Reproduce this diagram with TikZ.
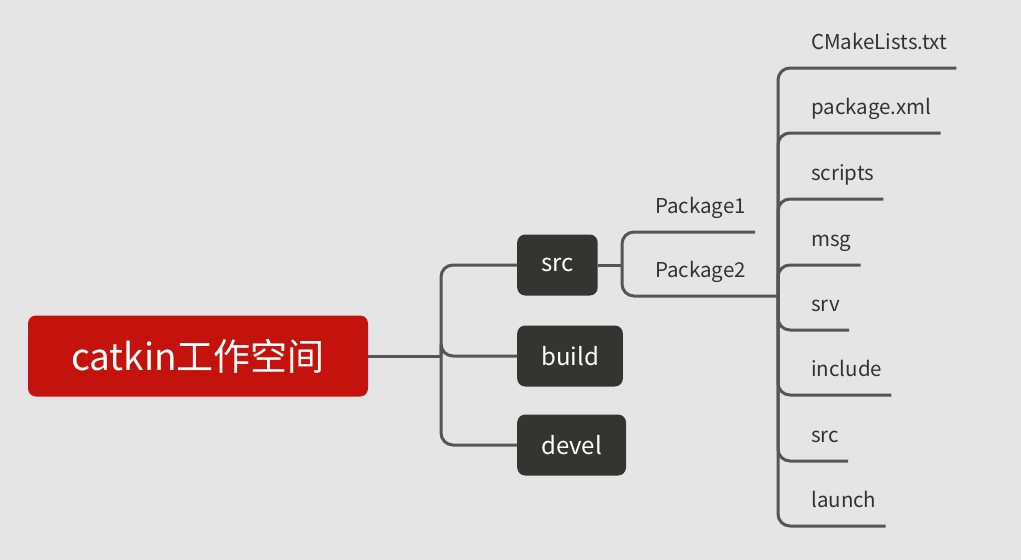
\documentclass[tikz,border=0pt]{standalone}
\usepackage{fontspec}
\setmainfont{Noto Sans CJK SC}
\usetikzlibrary{positioning}
\definecolor{bgGray}{RGB}{229,229,229}
\definecolor{lineGray}{RGB}{85,85,85}
\definecolor{rootRed}{RGB}{196,18,12}
\definecolor{boxDark}{RGB}{52,52,49}
\definecolor{textGray}{RGB}{51,51,51}

\begin{document}
\begin{tikzpicture}[x=1pt,y=-1pt]

    \tikzset{
      rootbox/.style={
        fill=rootRed,
        rounded corners=8pt,
        text=white,
        font=\fontsize{37}{42}\selectfont,
        minimum width=340pt,
        minimum height=81pt,
        inner sep=0pt,
      },
      dirbox/.style={
        fill=boxDark,
        rounded corners=8pt,
        text=white,
        font=\fontsize{24}{28}\selectfont,
        anchor=west,
        inner xsep=24pt,
        minimum height=61pt,
      },
      leaf/.style={
        anchor=south west,
        text=textGray,
        font=\fontsize{20.5}{25}\selectfont,
        inner xsep=9pt,
        inner ysep=0pt,
        text height=15pt,
        text depth=18pt,
      },
      conn/.style={
        draw=lineGray,
        line width=3pt,
        rounded corners=12pt,
      },
    }
    \fill[bgGray] (0,0) rectangle (1021,560);

    % workspace and its folders
    \node[rootbox] (ws) at (198,356) {catkin工作空间};
    \node[dirbox] (src) at (517,265) {src};
    \node[dirbox] (build) at (517,356) {build};
    \node[dirbox] (devel) at (517,445) {devel};

    \coordinate (wsjoin) at (441,356);
    \draw[conn] (ws.east) -- (wsjoin);
    \draw[conn] (wsjoin) |- (src.west);
    \draw[conn] (wsjoin) |- (build.west);
    \draw[conn] (wsjoin) |- (devel.west);

    % packages
    \node[leaf] (pkgone) at (646,232) {Package1};
    \node[leaf] (pkgtwo) at (646,296) {Package2};

    \coordinate (srcjoin) at (622,265);
    \coordinate (pkgjoin) at (778,296);
    \draw[conn] (src.east) -- (srcjoin);
    \draw[conn] (srcjoin) |- (pkgone.south east);
    \draw[conn] (srcjoin) |- (pkgtwo.south east) -- (pkgjoin);

    % package contents
    \foreach \name/\y/\txt in {cmake/68/CMakeLists.txt, pkgxml/133/package.xml,
        scripts/199/scripts, msg/265/msg, srv/330/srv, include/395/include,
        pkgsrc/461/src, launch/526/launch} {
      \node[leaf] (\name) at (802,\y) {\txt};
      \draw[conn] (pkgjoin) |- (\name.south east);
    }

\end{tikzpicture}
\end{document}
